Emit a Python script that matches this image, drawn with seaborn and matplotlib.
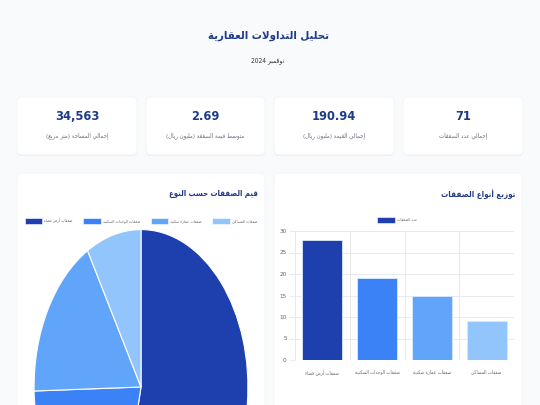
import re
import numpy as np
import matplotlib
matplotlib.use("Agg")
import matplotlib.pyplot as plt
import seaborn as sns
from matplotlib.patches import FancyBboxPatch, Patch

# البيانات
title = "تحليل التداولات العقارية"
subtitle = "نوفمبر 2024"
kpi_values = ["34,563", "2.69", "190.94", "71"]
kpi_labels = ["إجمالي المساحة (متر مربع)", "متوسط قيمة الصفقة (مليون ريال)",
              "إجمالي القيمة (مليون ريال)", "إجمالي عدد الصفقات"]
deal_types = ["صفقات أرض فضاء", "صفقات الوحدات السكنية", "صفقات عمارة سكنية", "صفقات المساكن"]
deal_values = [102.1, 40.3, 32.6, 15.9]   # مليون ريال
deal_counts = [28, 19, 15, 9]
colors = ["#1e40af", "#3b82f6", "#60a5fa", "#93c5fd"]
pie_title = "قيم الصفقات حسب النوع"
bar_title = "توزيع أنواع الصفقات"
bar_legend = "عدد الصفقات"

# تشكيل الحروف العربية (بدون مكتبات خارجية)
AR_FORMS = {
    "\u0621": (0xFE80, 1), "\u0622": (0xFE81, 2), "\u0623": (0xFE83, 2), "\u0624": (0xFE85, 2),
    "\u0625": (0xFE87, 2), "\u0626": (0xFE89, 4), "\u0627": (0xFE8D, 2), "\u0628": (0xFE8F, 4),
    "\u0629": (0xFE93, 2), "\u062A": (0xFE95, 4), "\u062B": (0xFE99, 4), "\u062C": (0xFE9D, 4),
    "\u062D": (0xFEA1, 4), "\u062E": (0xFEA5, 4), "\u062F": (0xFEA9, 2), "\u0630": (0xFEAB, 2),
    "\u0631": (0xFEAD, 2), "\u0632": (0xFEAF, 2), "\u0633": (0xFEB1, 4), "\u0634": (0xFEB5, 4),
    "\u0635": (0xFEB9, 4), "\u0636": (0xFEBD, 4), "\u0637": (0xFEC1, 4), "\u0638": (0xFEC5, 4),
    "\u0639": (0xFEC9, 4), "\u063A": (0xFECD, 4), "\u0641": (0xFED1, 4), "\u0642": (0xFED5, 4),
    "\u0643": (0xFED9, 4), "\u0644": (0xFEDD, 4), "\u0645": (0xFEE1, 4), "\u0646": (0xFEE5, 4),
    "\u0647": (0xFEE9, 4), "\u0648": (0xFEED, 2), "\u0649": (0xFEEF, 2), "\u064A": (0xFEF1, 4),
}
LAM_ALEF = {"\u0622": 0xFEF5, "\u0623": 0xFEF7, "\u0625": 0xFEF9, "\u0627": 0xFEFB}


def ar(text):
    tokens = []
    i = 0
    while i < len(text):
        c = text[i]
        if c == "\u0644" and i + 1 < len(text) and text[i + 1] in LAM_ALEF:
            tokens.append(("LA", text[i + 1]))
            i += 2
        else:
            tokens.append(c)
            i += 1

    def joins_next(t):
        return not isinstance(t, tuple) and t in AR_FORMS and AR_FORMS[t][1] == 4

    def joins_prev(t):
        return isinstance(t, tuple) or (t in AR_FORMS and AR_FORMS[t][1] >= 2)

    out = []
    for k, t in enumerate(tokens):
        prev = tokens[k - 1] if k > 0 else None
        nxt = tokens[k + 1] if k + 1 < len(tokens) else None
        p = prev is not None and joins_next(prev)
        if isinstance(t, tuple):
            out.append(chr(LAM_ALEF[t[1]] + (1 if p else 0)))
            continue
        if t not in AR_FORMS:
            out.append(t)
            continue
        base, n = AR_FORMS[t]
        nx = n == 4 and nxt is not None and joins_prev(nxt)
        if n == 1:
            form = 0
        elif p and nx:
            form = 3
        elif p:
            form = 1
        elif nx:
            form = 2
        else:
            form = 0
        out.append(chr(base + form))
    s = "".join(out)[::-1]
    s = s.translate(str.maketrans("()", ")("))
    s = re.sub(r"[0-9][0-9.,]*[0-9]|[0-9]", lambda m: m.group(0)[::-1], s)
    return s


sns.set_theme(style="white")
plt.rcParams["font.family"] = ["DejaVu Sans"]
plt.rcParams["font.stretch"] = "condensed"

W, H = 540, 405
bg = "#f8fafc"
navy = "#1e3a8a"
grid_c = "#e5e7eb"
muted = "#666666"

fig = plt.figure(figsize=(W / 100, H / 100), dpi=100, facecolor=bg)

# طبقة الخلفية بإحداثيات البكسل
base = fig.add_axes([0, 0, 1, 1])
base.set_xlim(0, W)
base.set_ylim(H, 0)
base.axis("off")


def card(x0, y0, x1, y1):
    sh = FancyBboxPatch((x0, y0 + 1), x1 - x0, y1 - y0, boxstyle="round,pad=0,rounding_size=5",
                        facecolor="#e8ecf2", edgecolor="none", alpha=0.8)
    base.add_patch(sh)
    c = FancyBboxPatch((x0, y0), x1 - x0, y1 - y0, boxstyle="round,pad=0,rounding_size=5",
                       facecolor="white", edgecolor="#f0f2f6", linewidth=0.5)
    base.add_patch(c)


base.text(268, 36, ar(title), ha="center", va="center", fontsize=8.2,
          fontweight="bold", color=navy)
base.text(268, 61, ar(subtitle), ha="center", va="center", fontsize=4.8, color="#333333")

card_x = [(17, 137), (146, 265), (274, 394), (403, 523)]
for (x0, x1), v, lab in zip(card_x, kpi_values, kpi_labels):
    card(x0, 97, x1, 155)
    cx = (x0 + x1) / 2
    base.text(cx, 117, v, ha="center", va="center", fontsize=9.2, fontweight="bold",
              color=navy)
    base.text(cx, 136, ar(lab), ha="center", va="center", fontsize=4.4, color="#6b7280")

card(17, 173, 265, 420)
card(274, 173, 522, 420)
base.text(258, 194, ar(pie_title), ha="right", va="center", fontsize=5.6,
          fontweight="bold", color=navy)
base.text(515, 194, ar(bar_title), ha="right", va="center", fontsize=5.8,
          fontweight="bold", color=navy)

# مخطط دائري
pie_ax = fig.add_axes([33 / W, (H - 546) / H, 216 / W, 318 / H])
pie_ax.pie(deal_values, colors=colors, startangle=90, counterclock=False,
           wedgeprops=dict(edgecolor="white", linewidth=0.8))
pie_ax.set_aspect("auto")
pie_ax.set_xlim(-1.01, 1.01)
pie_ax.set_ylim(-1.01, 1.01)
pie_ax.axis("off")

handles = [Patch(facecolor=c, edgecolor="white", linewidth=0.4) for c in colors]
leg1 = base.legend(handles, [ar(t) for t in deal_types], ncol=4, loc="center",
                   bbox_to_anchor=(141, 221), bbox_transform=base.transData, frameon=False,
                   fontsize=2.9, handlelength=4.4, handleheight=2.0, handletextpad=0.5,
                   columnspacing=2.6, labelcolor=muted)
base.add_artist(leg1)

# مخطط الأعمدة
bar_ax = fig.add_axes([295 / W, (H - 360) / H, 219 / W, 129 / H])
bar_ax.set_facecolor("white")
labels_shaped = [ar(t) for t in deal_types]
sns.barplot(x=labels_shaped, y=deal_counts, hue=labels_shaped, palette=colors,
            legend=False, width=0.73, saturation=1, ax=bar_ax, edgecolor="#dbeafe",
            linewidth=0.6, zorder=3)
bar_ax.set_xlim(-0.5, len(deal_types) - 0.5)
bar_ax.set_ylim(0, 30)
bar_ax.set_yticks(range(0, 31, 5))
bar_ax.set_xticks(np.arange(-0.5, len(deal_types)), minor=True)
bar_ax.grid(which="minor", axis="x", color=grid_c, linewidth=0.6)
bar_ax.grid(which="major", axis="y", color=grid_c, linewidth=0.6)
bar_ax.tick_params(axis="x", which="major", length=0, labelsize=3.5, labelcolor=muted, pad=7)
bar_ax.tick_params(axis="x", which="minor", length=5, color=grid_c, width=0.6)
bar_ax.tick_params(axis="y", length=4, color=grid_c, width=0.6, labelsize=4.6,
                   labelcolor=muted, pad=2, left=True)
for s in bar_ax.spines.values():
    s.set_visible(False)

base.legend([Patch(facecolor=colors[0], edgecolor="white", linewidth=0.4)], [ar(bar_legend)],
            loc="center", bbox_to_anchor=(397, 220), bbox_transform=base.transData,
            frameon=False, fontsize=2.9, handlelength=4.4, handleheight=2.0,
            handletextpad=0.5, labelcolor=muted)

fig.savefig("out.png", dpi=100, facecolor=bg)
